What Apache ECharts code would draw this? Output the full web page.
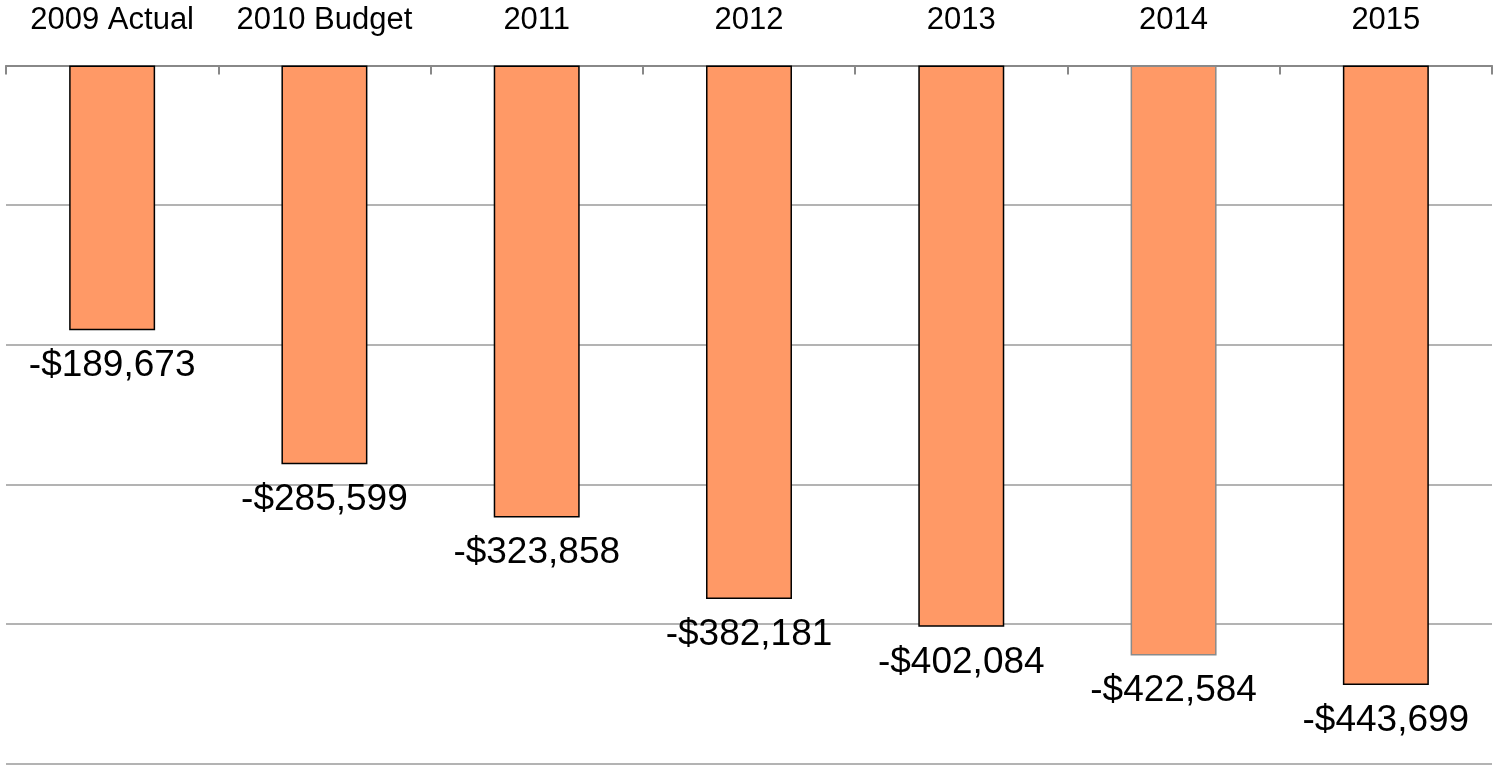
<!DOCTYPE html>
<html>
<head>
<meta charset="utf-8">
<script src="https://cdn.jsdelivr.net/npm/echarts@6/dist/echarts.min.js"></script>
<style>
  html, body { margin: 0; padding: 0; background: #fff; }
  #chart { width: 1493px; height: 765px; }
</style>
</head>
<body>
<div id="chart"></div>
<script>
// Yearly net position, 2009 actual through 2015 projection
const categories = ['2009 Actual', '2010 Budget', '2011', '2012', '2013', '2014', '2015'];
const values = [-189673, -285599, -323858, -382181, -402084, -422584, -443699];
const borderColors = ['#000', '#000', '#000', '#000', '#000', '#8a8a8a', '#000'];

const fmt = v => (v < 0 ? '-$' : '$') + Math.abs(v).toLocaleString('en-US');

const chart = echarts.init(document.getElementById('chart'), null, { renderer: 'canvas' });
chart.setOption({
  animation: false,
  textStyle: { fontFamily: '"Liberation Sans", Arial, sans-serif' },
  grid: { left: 6, right: 1, top: 65.5, bottom: 1.5, containLabel: false },
  xAxis: {
    type: 'category',
    data: categories,
    position: 'top',
    axisLine: { show: true, lineStyle: { color: '#888', width: 2 } },
    axisTick: { show: true, inside: true, interval: 0, length: 9, lineStyle: { color: '#888', width: 2 } },
    axisLabel: { color: '#000', fontSize: 31, interval: 0, margin: 30, fontFamily: '"Liberation Sans", Arial, sans-serif' },
    splitLine: { show: false }
  },
  yAxis: {
    type: 'value',
    min: -500000,
    max: 0,
    interval: 100000,
    axisLine: { show: false },
    axisTick: { show: false },
    axisLabel: { show: false },
    splitLine: { show: true, lineStyle: { color: '#9a9a9a', width: 1.5 } }
  },
  series: [{
    type: 'bar',
    barWidth: '40.5%',
    data: values.map((v, i) => ({
      value: v,
      itemStyle: { color: '#FF9966', borderColor: borderColors[i], borderWidth: 1.5 }
    })),
    label: {
      show: true,
      position: 'bottom',
      distance: 17,
      color: '#000',
      fontSize: 37,
      fontFamily: '"Liberation Sans", Arial, sans-serif',
      formatter: p => fmt(p.value)
    }
  }]
});
</script>
</body>
</html>
